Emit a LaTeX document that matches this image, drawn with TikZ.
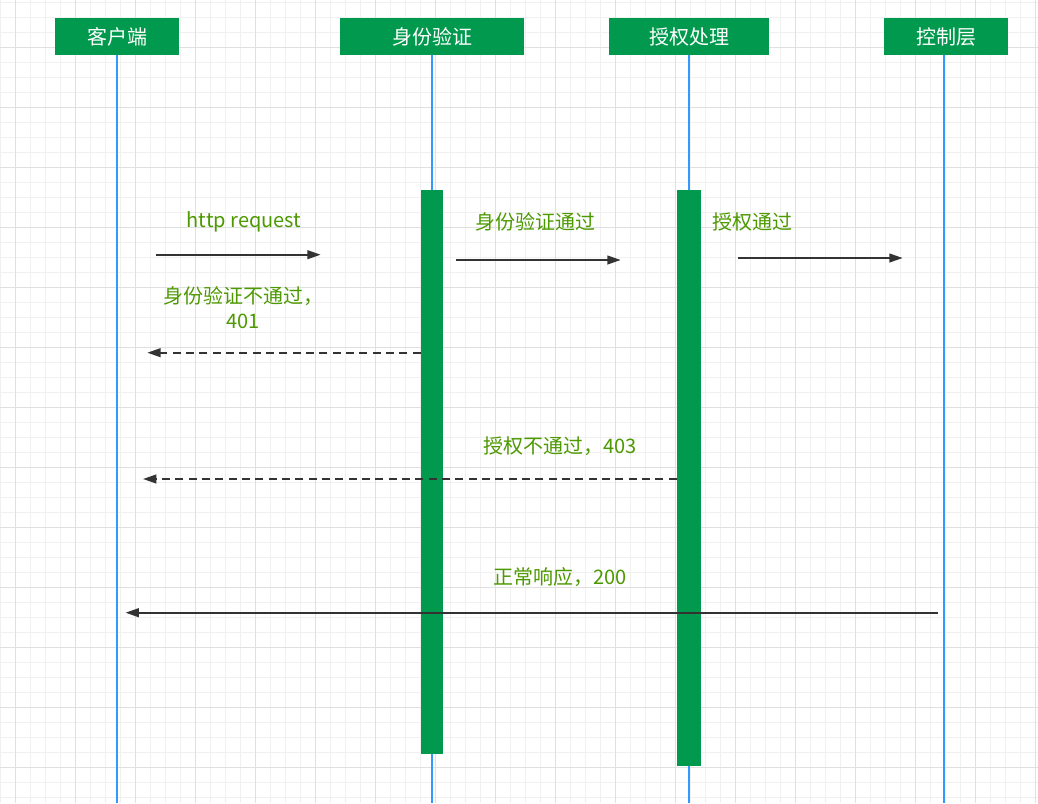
\documentclass[tikz,border=0pt]{standalone}
\usepackage{fontspec}
\setmainfont{Noto Sans CJK SC}
\usetikzlibrary{arrows.meta}
\definecolor{gridminor}{HTML}{F0F0F0}
\definecolor{gridmajor}{HTML}{E0E0E0}
\definecolor{boxgreen}{HTML}{00994D}
\definecolor{lifeblue}{HTML}{3399FF}
\definecolor{labelgreen}{HTML}{4D9900}
\definecolor{arrowgray}{HTML}{333333}
\tikzset{
  header/.style={fill=boxgreen, draw=none, text=white, font=\fontsize{15pt}{18pt}\selectfont, minimum height=27.75pt, inner sep=0pt},
  lifeline/.style={draw=lifeblue, line width=1.5pt},
  actbar/.style={fill=boxgreen, draw=none, inner sep=0pt},
  msg/.style={draw=arrowgray, line width=1.5pt, -{Triangle[length=10pt,width=6.5pt]}},
  retmsg/.style={msg, dash pattern=on 6pt off 4pt},
  lbl/.style={text=labelgreen, font=\fontsize{15pt}{18.75pt}\selectfont, inner sep=0pt, align=center},
}
\begin{document}
\begin{tikzpicture}[x=0.75pt,y=-0.75pt]
\useasboundingbox (0,0) rectangle (1038,803);
\fill[white] (0,0) rectangle (1038,803);
% grid
\foreach \gx in {0,15,...,1035} {\draw[gridminor, line width=0.75pt] (\gx,0) -- (\gx,803);}
\foreach \gy in {2.3,17.3,...,800} {\draw[gridminor, line width=0.75pt] (0,\gy) -- (1038,\gy);}
\foreach \gx in {15,75,...,1035} {\draw[gridmajor, line width=0.75pt] (\gx,0) -- (\gx,803);}
\foreach \gy in {47.3,107.3,...,800} {\draw[gridmajor, line width=0.75pt] (0,\gy) -- (1038,\gy);}

% headers
\node[header, minimum width=93pt] (client) at (117,36.5) {客户端};
\node[header, minimum width=138pt] (auth) at (432,36.5) {身份验证};
\node[header, minimum width=120pt] (authz) at (689,36.5) {授权处理};
\node[header, minimum width=93pt] (ctrl) at (946,36.5) {控制层};

% lifeline ends
\coordinate (clientend) at (117,803);
\coordinate (authend) at (432,803);
\coordinate (authzend) at (689,803);
\coordinate (ctrlend) at (944,803);

\draw[lifeline] (client.south) -- (clientend);
\draw[lifeline] (auth.south) -- (authend);
\draw[lifeline] (authz.south) -- (authzend);
\draw[lifeline] (ctrl.south -| ctrlend) -- (ctrlend);

% activation bars
\node[actbar, minimum width=16.4pt, minimum height=422.8pt] (bar1) at (431.9,471.9) {};
\node[actbar, minimum width=17.8pt, minimum height=431.8pt] (bar2) at (688.9,477.9) {};

% message endpoints
\coordinate (m1s) at (156,254.7);
\coordinate (m1e) at (320.7,254.7);
\coordinate (m2s) at (456,260);
\coordinate (m2e) at (620.7,260);
\coordinate (m3s) at (738.3,258);
\coordinate (m3e) at (902.7,258);
\coordinate (r1e) at (147.3,352.7);
\coordinate (r2e) at (143,479);
\coordinate (r3s) at (937.7,612.7);
\coordinate (r3e) at (125.5,612.7);

\draw[msg] (m1s) -- (m1e);
\draw[msg] (m2s) -- (m2e);
\draw[msg] (m3s) -- (m3e);
\draw[retmsg] (bar1.west |- r1e) -- (r1e);
\draw[retmsg] (bar2.west |- r2e) -- (r2e);
\draw[msg] (r3s) -- (r3e);

% labels
\node[lbl] (l1) at (244,221.7) {http request};
\node[lbl] (l2) at (535,222) {身份验证通过};
\node[lbl] (l3) at (752,221.7) {授权通过};
\node[lbl] (l4) at (243,308) {身份验证不通过，\\401};
\node[lbl] (l5) at (560,446) {授权不通过，403};
\node[lbl] (l6) at (560,577.5) {正常响应，200};
\end{tikzpicture}
\end{document}
